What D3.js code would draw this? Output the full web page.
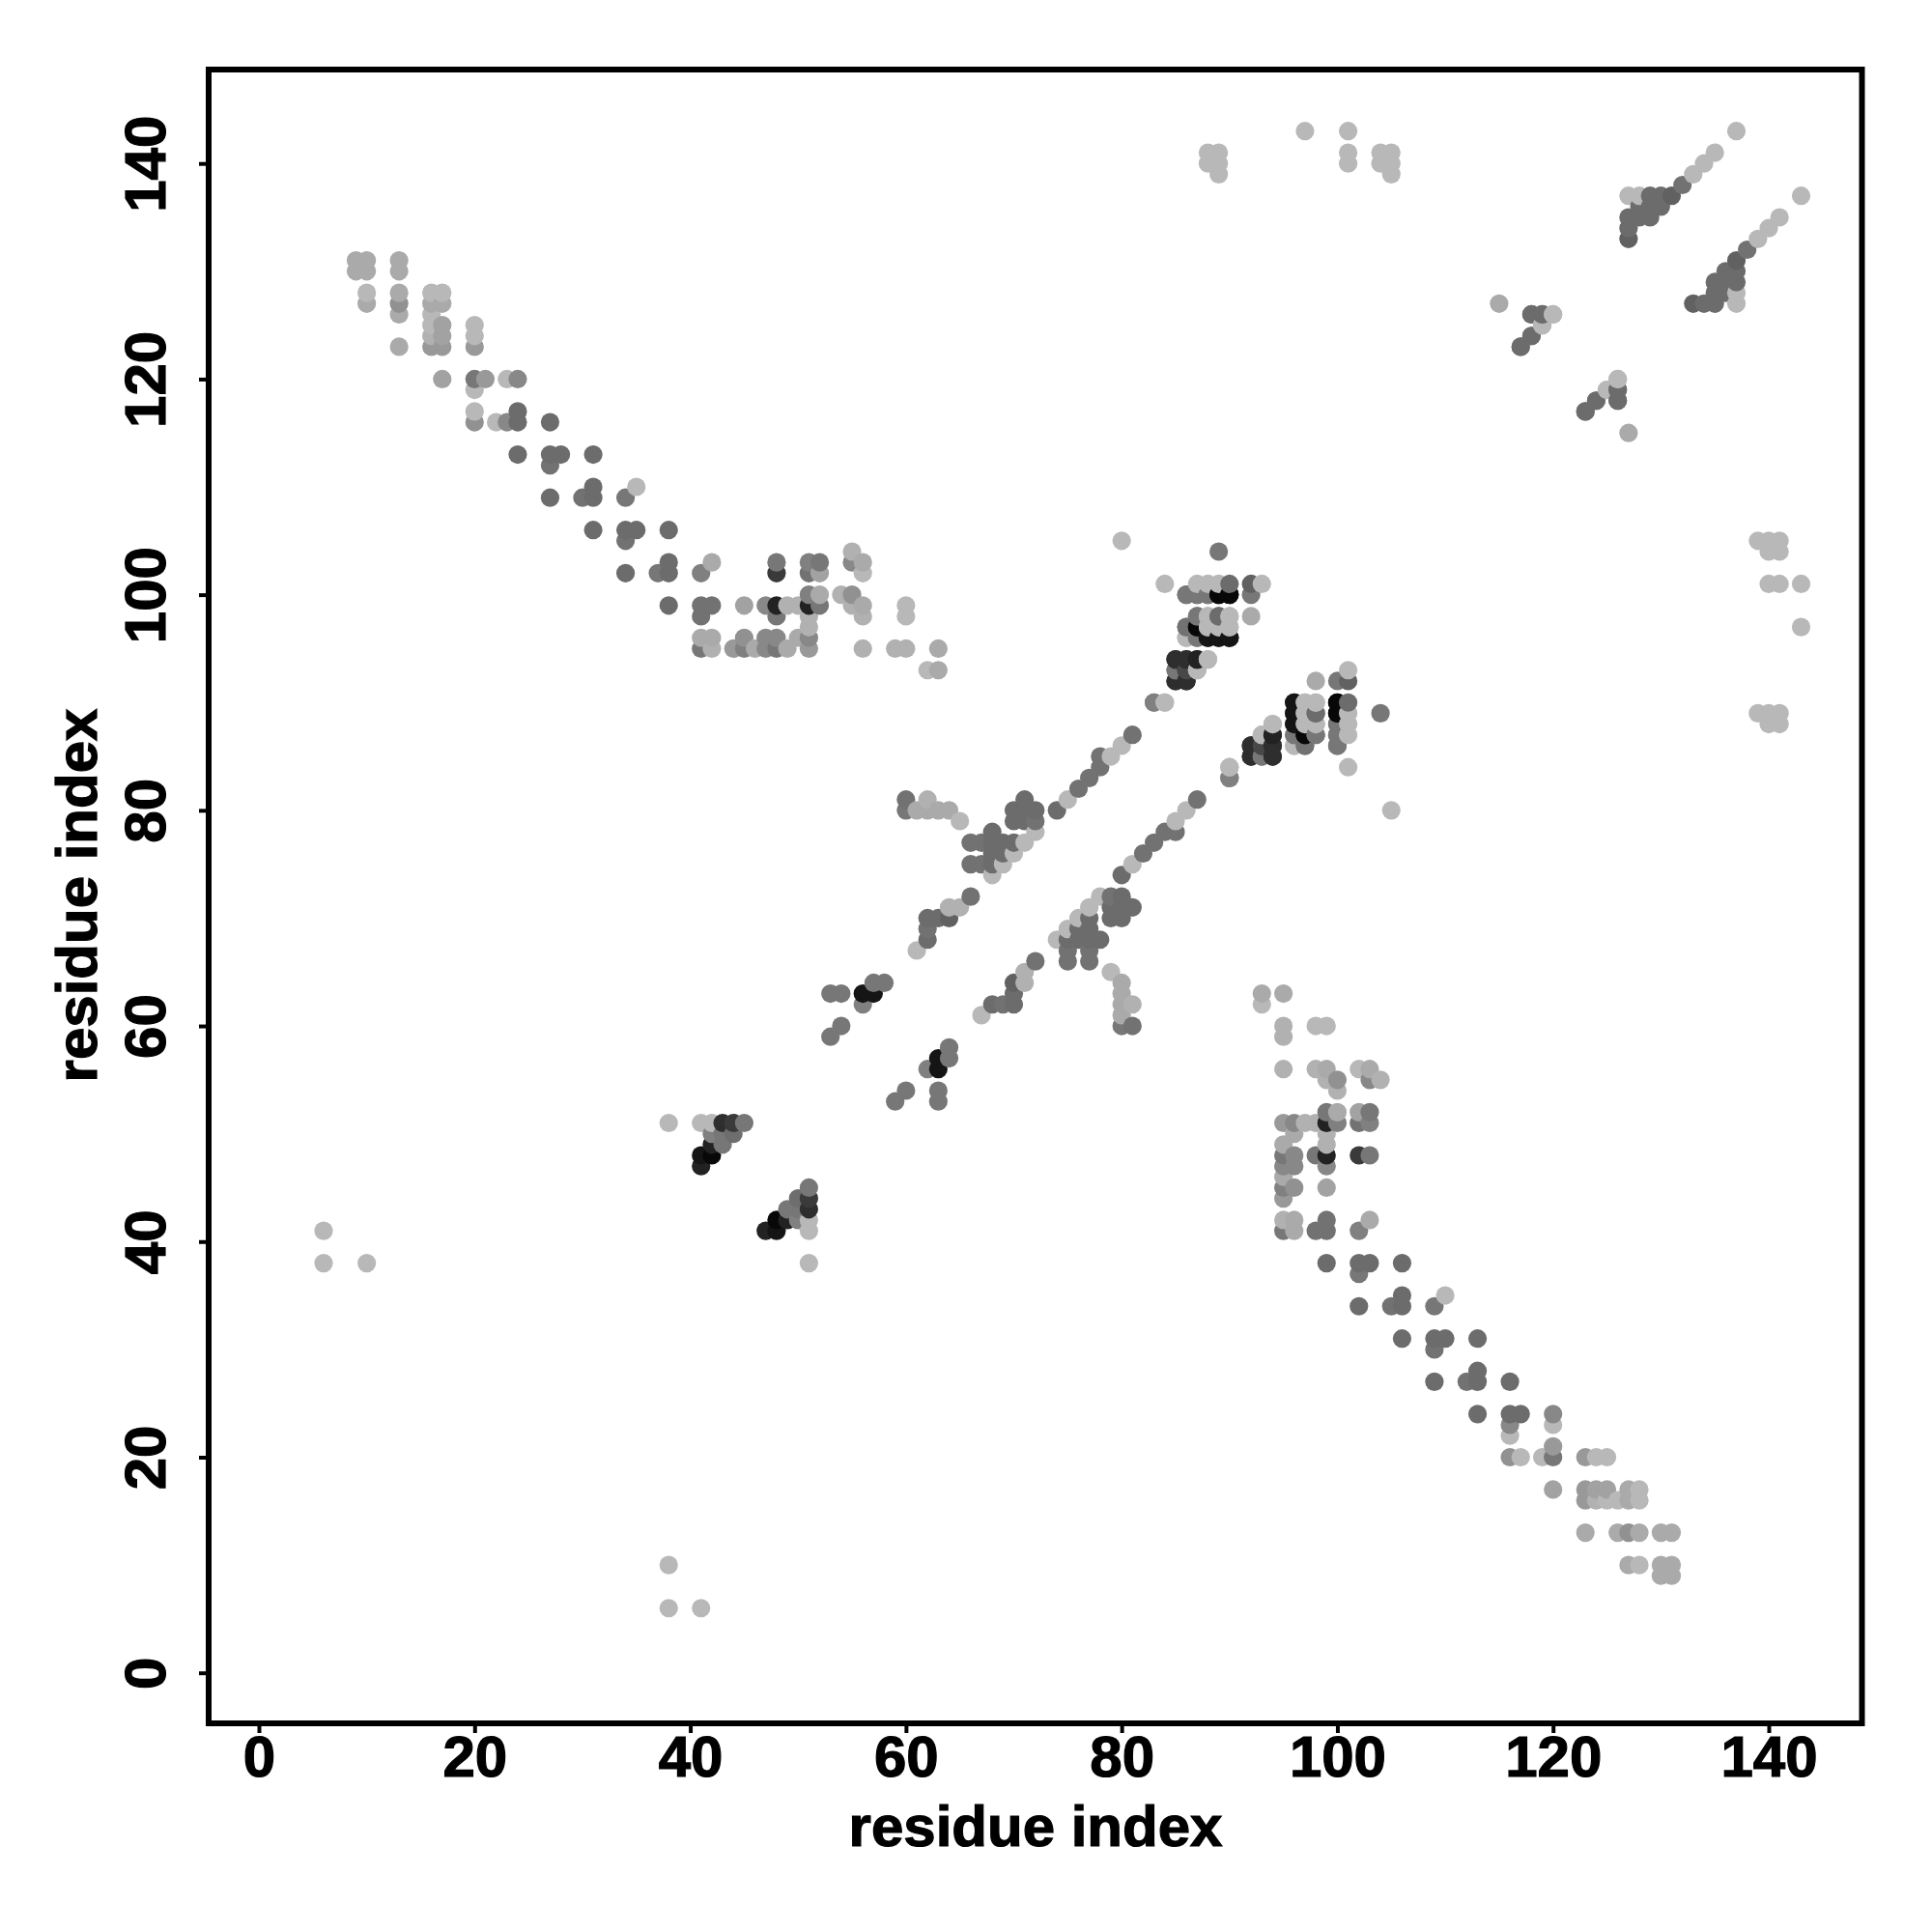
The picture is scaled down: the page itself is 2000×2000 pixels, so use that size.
<!DOCTYPE html>
<html><head><meta charset="utf-8">
<script src="https://cdnjs.cloudflare.com/ajax/libs/d3/7.8.5/d3.min.js"></script>
<style>html,body{margin:0;padding:0;background:#fff}svg{display:block}</style></head>
<body><div id="chart"></div>
<script>
// Contacts: [residue i, residue j, strength level]; every contact appears at (i,j) and (j,i).
const xTicks = [0,20,40,60,80,100,120,140];
const yTicks = [0,20,40,60,80,100,120,140];
const axisTitle = "residue index";
const strengthLevels = [0,1,2,3,4,5,6,7,8,9];
const grayLevels = ["#b8b8b8","#aaaaaa","#999999","#888888","#777777","#6c6c6c","#555555","#3a3a3a","#222222","#080808"];

const farContacts = [[6,38,0],[6,41,0],[10,38,0],
[88,141,0],[89,141,0],[88,140,0],[89,140,0],[89,139,0],[97,143,0],[101,143,0],[101,141,0],[101,140,0],
[104,141,0],[105,141,0],[104,140,0],[105,140,0],[105,139,0]];

const strandA = [[9,131,1],[10,131,1],[13,131,1],[9,130,1],[10,130,1],[13,130,1],
[10,128,0],[13,128,1],[16,128,0],[17,128,0],[10,127,1],[13,127,2.5],[16,127,1],[17,127,1],
[13,126,1],[16,126,0],[16,125,0],[17,125,1.5],[20,125,0],[16,124,0.5],[17,124,1.5],[20,124,0],
[13,123,1],[16,123,2],[17,123,2],[20,123,2],
[17,120,1.5],[20,120,4],[21,120,2],[23,120,0],[24,120,3],[20,119,0],[20,117,0],[24,117,5],
[20,116,2.5],[22,116,0],[23,116,3],[24,116,5],[27,116,5],
[24,113,5],[27,113,5],[28,113,5],[31,113,5],[27,112,4.5],[31,110,5],[35,110,0],
[27,109,5],[30,109,4.5],[31,109,5],[34,109,4],[31,106,5],[34,106,5],[35,106,5],[38,106,5],[34,105,4.5]];

const strandB = [[55,104,0.5],[38,103,5],[42,103,1],[48,103,4],[51,103,3.5],[52,103,4],[55,103,3],[56,103,1],
[34,102,5],[37,102,4],[38,102,5],[41,102,3.5],[48,102,7],[51,102,4.5],[52,102,1.5],[56,102,0],
[51,100,3.5],[52,100,1],[54,100,0.5],[55,100,2.5],
[38,99,5],[41,99,4.5],[42,99,4.5],[45,99,1.5],[47,99,3],[48,99,8],[49,99,0.5],[50,99,0.5],[51,99,8],[52,99,4],[55,99,0.5],[56,99,1],[60,99,0],
[41,98,4.5],[48,98,4],[51,98,0.5],[56,98,0.5],[60,98,0],[51,97,0.5],
[41,96,1],[42,96,1],[45,96,2.5],[47,96,3],[48,96,3],[50,96,1],[51,96,3],
[41,95,4],[42,95,0.5],[44,95,2],[45,95,3.5],[46,95,1],[47,95,3],[48,95,4],[49,95,1],[51,95,2],[56,95,0.5],[59,95,0.5],[60,95,0.5],[63,95,1],
[62,93,0],[63,93,1]];

const helixC = [[38,51,0],[41,51,0],[42,51,0],[43,51,7.5],[44,51,7],[45,51,4],
[42,50,3.5],[43,50,4],[44,50,4.8],[42,49,8],[43,49,4],[41,48,8.5],[42,48,9],[41,47,8],
[53,63,4],[54,63,4],[56,63,8.5],[57,63,8.5],[57,64,4],[58,64,4],[56,62,3.5],[54,60,4],[53,59,4]];

const helixD = [[60,81,4.5],[62,81,0.5],[71,81,5],[60,80,4],[61,80,1],[62,80,1],[63,80,1],[64,80,1],[70,80,5],[71,80,5],[72,80,5],[74,80,5],
[65,79,0],[70,79,5],[71,79,5],[72,79,4.5],[68,78,5],[72,78,0],
[66,77,4.5],[67,77,4.5],[68,77,5],[69,77,5],[70,77,5],[71,77,0],[68,76,5],[69,76,5],[70,76,0],
[66,75,4.5],[67,75,4.5],[68,75,5],[69,75,0],[68,74,0],[66,72,4.5],[64,71,0.5],[65,71,0.5],
[62,70,5],[63,70,5],[64,70,5.5],[62,69,4.5],[62,68,5],[61,67,0],
[75,81,0],[76,82,4.5],[77,83,4.5],[78,84,4.5],[78,85,4.5],[79,85,0],[80,86,0],[81,87,4.5],[83,90,3.5],[84,90,0]];

const clusterE = [[80,105,0],[89,104,4],[84,101,0],[87,101,0],[88,101,0],[89,101,0],[90,101,5],[92,101,5.5],[93,101,0],
[86,100,4],[87,100,4],[88,100,4],[89,100,9],[90,100,9],[92,100,4],
[87,98,4],[88,98,0],[89,98,4],[90,98,0],[92,98,1],
[86,97,4.5],[87,97,9],[88,97,0],[89,97,0],[90,97,0],[86,96,0],[87,96,3.5],[88,96,8.5],[89,96,8.5],[90,96,8.5],
[85,94,7.5],[86,94,7.5],[87,94,8],[88,94,0],[85,93,3.5],[86,93,7.5],[87,93,0],[85,92,7.5],[86,92,8],
[90,84,0],[90,83,3.5]];

const clusterF = [[96,90,8.5],[97,90,0],[98,90,0],[100,90,9],[96,89,8.5],[97,89,0],[98,89,5],[100,89,9],
[94,88,0],[96,88,8.5],[97,88,0],[98,88,0],[100,88,4],
[93,87,0],[94,87,8],[96,87,4],[97,87,9],[98,87,4],[100,87,4],
[92,86,7.5],[93,86,6.5],[94,86,7.5],[96,86,0],[97,86,4.5],[100,86,4],[92,85,7.5],[93,85,4],[94,85,7.5]];

const tailContacts = [[115,127,1],[118,126,5],[119,126,5],[120,126,0],[119,125,0],[118,124,5],[117,123,5],
[126,120,0],[125,119,0],[126,119,5],[124,118,5],[126,118,5],[123,117,5],
[137,143,0],[135,141,0],[134,140,0],[133,139,0],[132,138,4.5],[131,137,5.5],[130,137,5],[129,137,5],[128,137,0],[127,137,0],
[128,136,5],[129,136,5],[130,136,5],[127,135,5],[128,135,5],[129,135,5],[127,134,5],[127,133,5.5]];

const contactGroups = [farContacts,strandA,strandB,helixC,helixD,clusterE,clusterF,tailContacts];

const x = d3.scaleLinear().domain([0,140]).range([268,1831]);
const y = d3.scaleLinear().domain([0,140]).range([1731.7,169.2]);
const gray = d3.scaleLinear().domain(strengthLevels).range(grayLevels);

const svg = d3.select("#chart").append("svg").attr("width",2000).attr("height",2000);

const points = contactGroups.flat()
  .flatMap(([i,j,s]) => [{x:i,y:j,s},{x:j,y:i,s}])
  .sort((a,b) => d3.ascending(a.x,b.x) || d3.ascending(a.y,b.y));

svg.append("g").selectAll("circle").data(points).join("circle")
  .attr("cx",d=>x(d.x)).attr("cy",d=>y(d.y)).attr("r",9.6).attr("fill",d=>gray(d.s));

const font = "'Liberation Sans', Arial, sans-serif";
const styleText = s => s.attr("font-family",font).attr("font-weight","bold")
  .attr("fill","#000").attr("stroke","#000").attr("stroke-width",1.2);
const gx = svg.append("g").attr("transform","translate(0,1784)")
  .call(d3.axisBottom(x).tickValues(xTicks).tickSize(10).tickSizeOuter(0));
const gy = svg.append("g").attr("transform","translate(216,0)")
  .call(d3.axisLeft(y).tickValues(yTicks).tickSize(10).tickSizeOuter(0));
gx.select(".domain").remove(); gy.select(".domain").remove();
svg.selectAll(".tick line").attr("stroke","#000").attr("stroke-width",4);
gx.selectAll("text").attr("y",55).attr("dy",0).attr("font-size",60).call(styleText);
gy.selectAll("text").attr("x",0).attr("y",0).attr("dy",0)
  .attr("transform","translate(-45,0) rotate(-90)")
  .attr("text-anchor","middle").attr("font-size",60).call(styleText);

svg.append("rect").attr("x",216).attr("y",72).attr("width",1711.5).attr("height",1712)
  .attr("fill","none").attr("stroke","#000").attr("stroke-width",6);

svg.append("text").attr("x",1072).attr("y",1911).attr("text-anchor","middle").text(axisTitle)
  .attr("font-size",60).call(styleText);
svg.append("text").attr("transform","translate(100,927) rotate(-90)").attr("text-anchor","middle").text(axisTitle)
  .attr("font-size",60).call(styleText);
</script></body></html>
